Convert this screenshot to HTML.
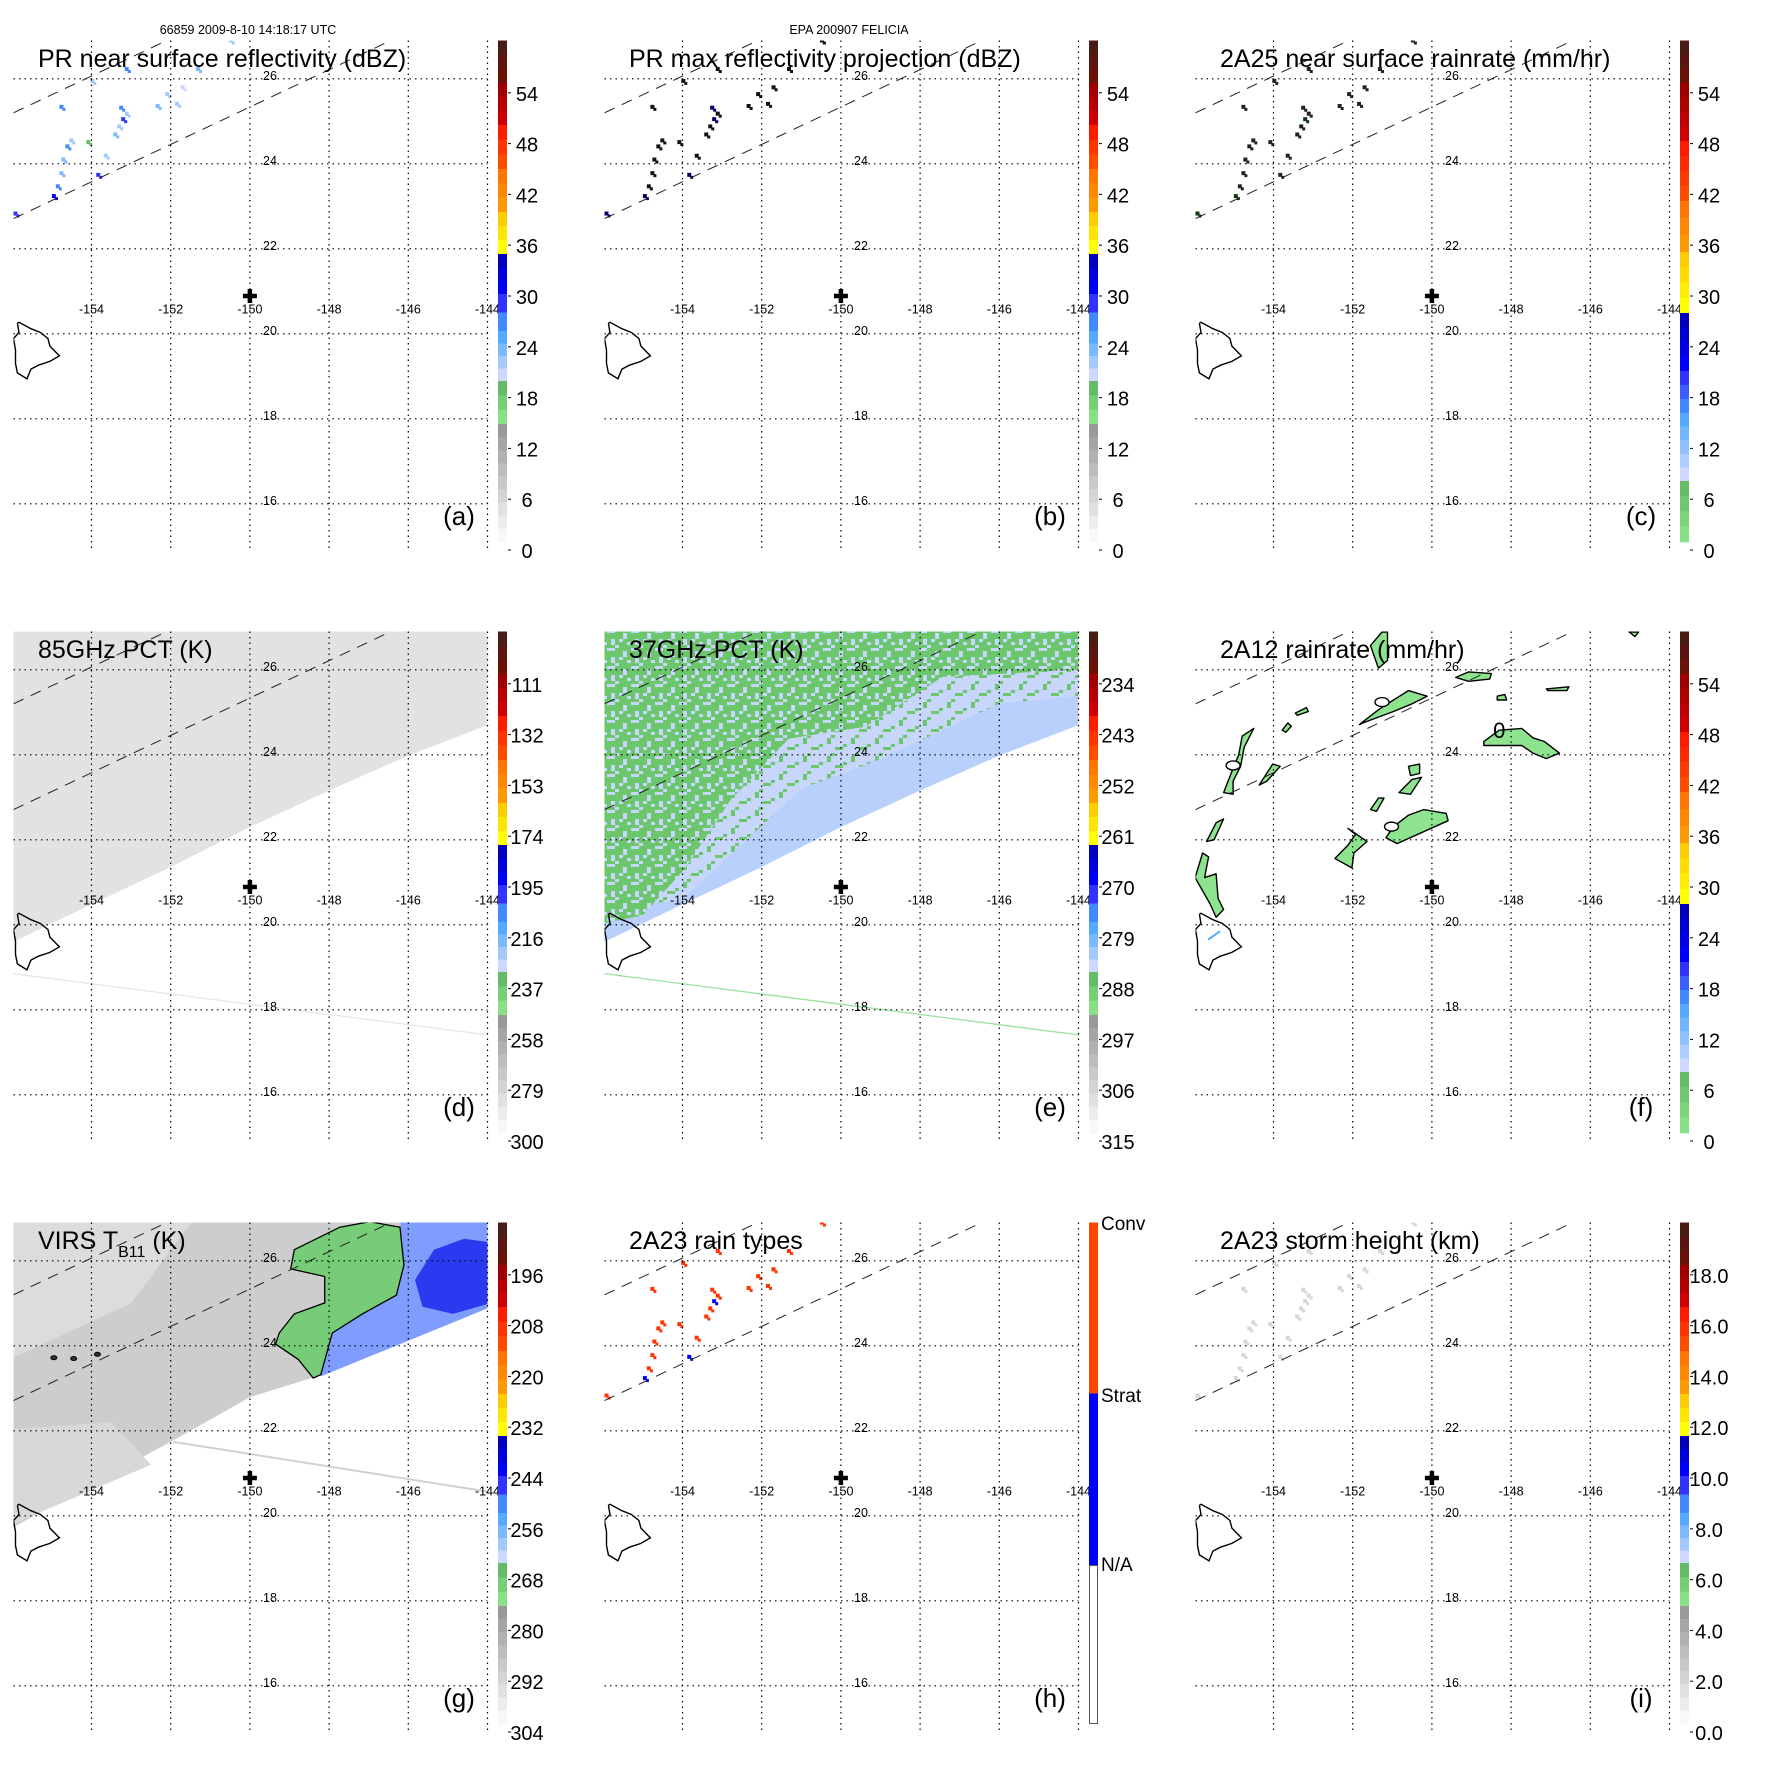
<!DOCTYPE html>
<html><head><meta charset="utf-8"><style>
html,body{margin:0;padding:0;background:#fff}
svg{display:block}
text{font-family:"Liberation Sans",Arial,sans-serif}
</style></head><body>
<svg id="fig" xmlns="http://www.w3.org/2000/svg" width="1771" height="1771" viewBox="0 0 1771 1771">
<rect x="0" y="0" width="1771" height="1771" fill="#fff"/>
<defs>
<pattern id="mixpat" width="24" height="18" patternUnits="userSpaceOnUse">
<rect width="24" height="18" fill="#6cc66c"/>
<rect x="0" y="0" width="4" height="3" fill="#c8d6fb"/><rect x="8" y="6" width="4" height="6" fill="#c8d6fb"/>
<rect x="16" y="3" width="8" height="3" fill="#c8d6fb"/><rect x="4" y="12" width="4" height="3" fill="#c8d6fb"/>
<rect x="20" y="12" width="4" height="6" fill="#c8d6fb"/><rect x="12" y="15" width="4" height="3" fill="#c8d6fb"/>
</pattern>
<pattern id="mixpat2" width="24" height="18" patternUnits="userSpaceOnUse">
<rect width="24" height="18" fill="#c8d6fb"/>
<rect x="0" y="0" width="4" height="3" fill="#6cc66c"/><rect x="12" y="9" width="4" height="3" fill="#6cc66c"/>
<rect x="20" y="3" width="4" height="6" fill="#6cc66c"/><rect x="4" y="12" width="8" height="3" fill="#6cc66c"/>
</pattern>
</defs>
<text x="248" y="34" font-size="12.5" text-anchor="middle">66859 2009-8-10 14:18:17 UTC</text>
<text x="849" y="34" font-size="12.5" text-anchor="middle">EPA 200907 FELICIA</text>
</svg>
<script>
const lonTicks=[-154,-152,-150,-148,-146,-144];
const latTicks=[16,18,20,22,24,26];
const stormLon=-150, stormLat=20.89;
// PR pixels
const prLon=[-154.95,-154.85,-154.76,-154.71,-154.61,-154.51,-154.08,-153.64,-153.83,-153.40,-153.20,-153.25,-153.11,-152.33,-152.09,-151.84,-153.98,-153.11,-151.31,-150.48,-155.92,-154.76,-153.30,-151.70];
const prLat=[23.24,23.47,23.78,24.10,24.41,24.55,24.51,24.19,23.74,24.69,25.05,25.32,25.18,25.36,25.64,25.41,25.95,26.23,26.23,26.90,22.83,25.34,24.88,25.80];
const prDbz=[31,26,24,24,27,22,19,22,29,24,30,27,22,24,22,22,22,26,24,22,29,26,22,21];
const prMax=[33,30,28,30,30,26,24,26,31,28,33,31,27,28,27,26,27,30,28,26,32,29,26,25];
const prRain=[14,6,4,4,8,3,2,3,10,4,12,8,3,4,3,3,3,6,4,3,10,6,3,2];
const prType=['S','C','C','C','C','C','C','C','S','C','S','C','C','C','C','C','C','C','C','C','C','C','C','C'];
const prHeight=[5.5,4.5,3.5,4,4.5,3,2.5,3,5,3.5,5,4.5,3,3.5,3,3,3,4,3.5,3,5,4,3,2.5];
// swath edges
const swathLonD=[-156.1,-155.97,-154,-152,-150,-148,-146,-144,-143.9];
const swathLatD=[19.55,19.60,20.48,21.36,22.30,23.16,23.98,24.70,24.74];
const swathLonG=[-156.1,-155.98,-154,-152,-150,-148,-146,-144,-143.9];
const swathLatG=[19.68,19.73,20.74,21.74,22.79,23.37,24.17,24.92,24.96];
const lineLonD=[-155.97,-144], lineLatD=[18.85,17.41];
const lineLonG=[-151.93,-144], lineLatG=[21.74,20.57];
const dashLowerLon=[-155.97,-146.60,-145.0], dashLowerLat=[22.71,26.83,27.53];
const dashUpperLon=[-155.97,-152.10,-151.5], dashUpperLat=[25.20,26.90,27.16];
const hawaiiLon=[-155.87,-155.83,-155.53,-155.29,-155.10,-155.05,-154.81,-155.05,-155.34,-155.53,-155.63,-155.87,-155.92,-155.92,-155.97,-155.83,-155.87];
const hawaiiLat=[20.25,20.27,20.12,20.03,19.89,19.71,19.48,19.35,19.26,19.17,18.94,19.08,19.30,19.62,19.89,20.03,20.25];
// 2A12 rain blobs (lon/lat)
const blobLon=[
[-148.69,-148.30,-147.73,-147.45,-147.16,-146.78,-147.11,-147.45,-147.73,-148.69],
[-151.16,-150.97,-150.59,-150.21,-149.64,-149.59,-150.88],
[-151.83,-151.35,-150.97,-150.59,-150.12,-150.50,-150.97,-151.74],
[-149.40,-149.07,-148.50,-148.54,-149.07],
[-147.11,-146.54,-146.59,-147.07],
[-155.26,-155.07,-154.88,-154.79,-154.50,-154.74,-154.83,-155.02,-155.02],
[-154.36,-154.02,-153.83,-154.17],
[-150.59,-150.31,-150.31,-150.54],
[-150.83,-150.50,-150.26,-150.54],
[-151.55,-151.35,-151.21,-151.40],
[-152.45,-152.12,-151.93,-152.12,-151.64,-151.97,-152.02],
[-155.98,-155.79,-155.64,-155.74,-155.45,-155.40,-155.26,-155.45,-155.60],
[-155.69,-155.45,-155.26,-155.50],
[-153.78,-153.64,-153.55,-153.69],
[-153.45,-153.17,-153.12,-153.40],
[-151.55,-151.26,-151.12,-151.12,-151.35],
[-148.35,-148.16,-148.11,-148.35],
[-145.02,-144.78,-144.87]];
const blobLat=[
[24.31,24.58,24.62,24.40,24.31,24.04,23.91,24.04,24.22,24.22],
[22.05,22.31,22.58,22.71,22.62,22.45,21.91],
[24.71,25.06,25.29,25.51,25.38,25.20,25.02,24.75],
[25.82,25.95,25.91,25.78,25.73],
[25.55,25.60,25.51,25.51],
[23.11,23.56,24.00,24.44,24.62,24.18,23.73,23.38,23.07],
[23.29,23.78,23.73,23.38],
[23.73,23.78,23.56,23.51],
[23.11,23.42,23.47,23.07],
[22.71,22.98,22.98,22.67],
[21.56,21.87,22.13,22.27,21.96,21.69,21.34],
[21.11,21.69,21.60,21.11,21.20,20.62,20.36,20.18,20.49],
[21.96,22.40,22.49,22.00],
[24.58,24.75,24.67,24.53],
[24.98,25.11,25.02,24.93],
[26.57,26.89,26.89,26.22,26.04],
[25.38,25.42,25.29,25.29],
[26.89,26.89,26.78]];
const ringLon=[-151.26,-155.02,-151.02], ringLat=[25.24,23.75,22.31];
// 37GHz green region
const greenLonE=[-156.2,-143.9,-143.9,-147.44,-149.38,-151.32,-152.78,-153.95,-155.01,-156.2];
const greenLatE=[27.1,27.1,26.01,25.83,24.66,24.38,22.94,21.31,20.22,20.0];
const mixLonE=[-156.2,-143.9,-143.9,-146.0,-149.0,-151.0,-152.5,-154.0,-156.2];
const mixLatE=[27.1,27.1,25.4,25.2,23.9,23.2,21.9,20.6,20.3];
// VIRS regions
const virsGreenLon=[-149.26,-148.88,-148.11,-148.11,-148.97,-148.88,-147.73,-146.97,-146.21,-146.11,-146.30,-147.16,-147.92,-148.21,-148.40,-148.78,-149.35];
const virsGreenLat=[24.30,24.75,25.01,25.63,25.81,26.26,26.79,26.92,26.79,25.90,25.19,24.75,24.30,23.32,23.24,23.68,24.04];
const virsBlueLon=[-146.21,-143.9,-143.9,-148.21,-148.02,-147.16,-146.30,-146.11];
const virsBlueLat=[27.0,27.0,24.92,23.28,24.30,24.75,25.19,25.90];
const virsDeepLon=[-145.83,-145.35,-144.59,-143.9,-143.9,-144.87,-145.64];
const virsDeepLat=[25.55,26.26,26.52,26.43,25.01,24.75,24.92];
const virsCoreLon=[-154.95,-154.45,-153.85], virsCoreLat=[23.72,23.70,23.80];
// colorbar labels
const labA=['0','6','12','18','24','30','36','42','48','54'];
const labD=['300','279','258','237','216','195','174','153','132','111'];
const labE=['315','306','297','288','279','270','261','252','243','234'];
const labG=['304','292','280','268','256','244','232','220','208','196'];
const labI=['0.0','2.0','4.0','6.0','8.0','10.0','12.0','14.0','16.0','18.0'];
const labH=['N/A','Strat','Conv'];

const NS='http://www.w3.org/2000/svg';
const svg=document.getElementById('fig');
function X(lon){return 91.5+(lon+154)*39.6;}
function Y(lat){return 78.8+(26-lat)*42.5;}
function el(tag,attrs,parent){const e=document.createElementNS(NS,tag);for(const k in attrs)e.setAttribute(k,attrs[k]);(parent||svg).appendChild(e);return e;}
function pts(lons,lats){return lons.map((l,i)=>X(l).toFixed(1)+','+Y(lats[i]).toFixed(1)).join(' ');}
const bandA=[[40.5,83,'#4a1a14','#6a1208',3],[83,125,'#a00000','#cc0000',3],[125,169,'#ff1a00','#ff4d00',3],[169,212,'#ff7700','#ff9900',3],[212,254,'#ffcc00','#ffff00',3],[254,294,'#0000bb','#0000ff',3],[294,331,'#3333ff','#4488ff',2],[331,381,'#55aaff','#ccd8ff',4],[381,424,'#66bb66','#88e088',3],[424,541.7,'#999999','#f8f8f8',9]];
const bandC=[[40.5,83,'#4a1a14','#6a1208',3],[83,141,'#a00000','#cc0000',4],[141,201,'#ff1a00','#ff4d00',4],[201,252,'#ff7700','#ff9900',3],[252,313,'#ffcc00','#ffff00',4],[313,371,'#0000bb','#0000ff',4],[371,413,'#3333ff','#4488ff',3],[413,481,'#55aaff','#ccd8ff',5],[481,541.7,'#66bb66','#88e088',4]];
function hex(c){return [1,3,5].map(i=>parseInt(c.substr(i,2),16));}
function mix(a,b,t){const A=hex(a),B=hex(b);return 'rgb('+A.map((v,i)=>Math.round(v+(B[i]-v)*t)).join(',')+')';}
function colorAt(bands,y){for(const b of bands){if(y>=b[0]&&y<=b[1]){const n=b[4];const k=Math.min(n-1,Math.floor((y-b[0])/(b[1]-b[0])*n));return mix(b[2],b[3],n>1?k/(n-1):0);}}return '#fff';}

const panels=[
 {id:'a',c:0,r:0,title:'PR near surface reflectivity (dBZ)',lab:labA,bands:bandA},
 {id:'b',c:1,r:0,title:'PR max reflectivity projection (dBZ)',lab:labA,bands:bandA},
 {id:'c',c:2,r:0,title:'2A25 near surface rainrate (mm/hr)',lab:labA,bands:bandC},
 {id:'d',c:0,r:1,title:'85GHz PCT (K)',lab:labD,bands:bandA},
 {id:'e',c:1,r:1,title:'37GHz PCT (K)',lab:labE,bands:bandA},
 {id:'f',c:2,r:1,title:'2A12 rainrate (mm/hr)',lab:labA,bands:bandC},
 {id:'g',c:0,r:2,title:'VIRS',lab:labG,bands:bandA},
 {id:'h',c:1,r:2,title:'2A23 rain types',lab:labH,bands:null},
 {id:'i',c:2,r:2,title:'2A23 storm height (km)',lab:labI,bands:bandA}];

panels.forEach(p=>{
 const g=el('g',{transform:'translate('+(591*p.c)+','+(591*p.r)+')'});
 
 
 const cp=el('clipPath',{id:'clip'+p.id},g);
 el('rect',{x:13.5,y:40.5,width:474,height:511.5},cp);
 const m=el('g',{'clip-path':'url(#clip'+p.id+')'},g);
 
 
 const ptD=pts(swathLonD,swathLatD), ptG=pts(swathLonG,swathLatG);
 if(p.id==='d'||p.id==='e'){
  const poly=X(-157)+','+Y(28)+' '+X(-143)+','+Y(28)+' '+ptD.split(' ').reverse().join(' ');
  const s=el('polygon',{points:poly,fill:p.id==='d'?'#e2e2e2':'#b8d0fb'},m);
  
  
  if(p.id==='e'){
   const mx=el('polygon',{points:pts(mixLonE,mixLatE),fill:'url(#mixpat2)'},m);
   
   
   const gr=el('polygon',{points:pts(greenLonE,greenLatE),fill:'url(#mixpat)'},m);
   
   
  }
  const ln=el('polyline',{points:pts(lineLonD,lineLatD),stroke:p.id==='d'?'#e6e6e6':'#9ee09e','stroke-width':1.3,fill:'none'},m);
  
  
 }
 if(p.id==='g'){
  const poly=X(-157)+','+Y(28)+' '+X(-143)+','+Y(28)+' '+ptG.split(' ').reverse().join(' ');
  const s=el('polygon',{points:poly,fill:'#cdcdcd'},m);
  
  
  el('polygon',{points:X(-156.5)+','+Y(27.5)+' '+X(-151)+','+Y(27.5)+' '+X(-153)+','+Y(25)+' '+X(-156.5)+','+Y(23.5),fill:'#dcdcdc'},m);
  el('polygon',{points:X(-156.5)+','+Y(22)+' '+X(-153.5)+','+Y(22.2)+' '+X(-152.5)+','+Y(21.2)+' '+X(-156.5)+','+Y(19.6),fill:'#d8d8d8'},m);
  const b=el('polygon',{points:pts(virsBlueLon,virsBlueLat),fill:'#7f9cff'},m);
  
  
  const dpb=el('polygon',{points:pts(virsDeepLon,virsDeepLat),fill:'#2a3af0'},m);
  
  
  const gr=el('polygon',{points:pts(virsGreenLon,virsGreenLat),fill:'#77cc77',stroke:'#000','stroke-width':1.3},m);
  
  
  virsCoreLon.forEach((l,i)=>{const c=el('ellipse',{cx:X(l),cy:Y(virsCoreLat[i]),rx:3,ry:2,fill:'#333',stroke:'#000'},m);
   
   });
  const ln=el('polyline',{points:pts(lineLonG,lineLatG),stroke:'#d0d0d0','stroke-width':2,fill:'none'},m);
  
  
 }
 if(p.id==='f'){
  blobLon.forEach((bl,i)=>{const b=el('polygon',{points:pts(bl,blobLat[i]),fill:'#8ee48e',stroke:'#000','stroke-width':1.4,'stroke-linejoin':'round'},m);
   
   });
  ringLon.forEach((l,i)=>{const r=el('ellipse',{cx:X(l),cy:Y(ringLat[i]),rx:7,ry:4.5,fill:'#fff',stroke:'#000','stroke-width':1.4},m);
   
   });
  const z=el('text',{x:X(-148.3),y:Y(24.4),'font-size':22,'text-anchor':'middle'},m);z.textContent='0';
  
  
  el('line',{x1:X(-155.65),y1:Y(19.65),x2:X(-155.35),y2:Y(19.85),stroke:'#55aaff','stroke-width':2},m);
 }
 if('abchi'.includes(p.id)){
  prLon.forEach((l,i)=>{
   let col;
   if(p.id==='a')col=colorAt(bandA,551-prDbz[i]*8.467);
   else if(p.id==='b')col=prMax[i]>30?'#000066':'#111';
   else if(p.id==='c')col=prRain[i]>8?'#113311':'#222';
   else if(p.id==='h')col=prType[i]==='S'?'#0000ff':'#ff3300';
   else col='#d6d6d6';
   const d=el('rect',{x:X(l)-2,y:Y(prLat[i])-2,width:4,height:4,fill:col},m);
   
   
   const d2=el('rect',{x:X(l)+1,y:Y(prLat[i])+1,width:3,height:3,fill:col},m);
   
   
  });
 }
 // grid
 lonTicks.forEach(lo=>{const l=el('line',{x1:X(lo),y1:40.5,x2:X(lo),y2:552,stroke:'#000','stroke-width':1.2,'stroke-dasharray':'1.5,4'},g);
  
  
  const t=el('text',{x:X(lo),y:313.5,'font-size':12.5,'text-anchor':'middle'},g);t.textContent=String(lo);
  
  });
 latTicks.forEach(la=>{const l=el('line',{x1:13.5,y1:Y(la),x2:487.5,y2:Y(la),stroke:'#000','stroke-width':1.2,'stroke-dasharray':'1.5,4'},g);
  
  
  const t=el('text',{x:270,y:Y(la)+1,'font-size':12.5,'text-anchor':'middle'},g);t.textContent=String(la);
  
  });
 // dashed swath lines
 [[dashLowerLon,dashLowerLat],[dashUpperLon,dashUpperLat]].forEach(dl=>{
  const l=el('polyline',{points:pts(dl[0],dl[1]),fill:'none',stroke:'#222','stroke-width':1,'stroke-dasharray':'11,8'},m);
  
  });
 const hw=el('polyline',{points:pts(hawaiiLon,hawaiiLat),fill:'none',stroke:'#000','stroke-width':1.4},m);
 
 
 const cx=X(stormLon), cy=Y(stormLat);
 const cr=el('path',{d:'M'+(cx-7)+','+cy+'H'+(cx+7)+'M'+cx+','+(cy-7)+'V'+(cy+7),stroke:'#000','stroke-width':4.5},g);
 
 
 // title
 const t=el('text',{x:38,y:67,'font-size':25},g);
 
 
 if(p.id==='g'){t.innerHTML='VIRS T<tspan font-size="16" dy="8">B11</tspan><tspan dy="-8"> (K)</tspan>';}
 else t.textContent=p.title;
 const lt=el('text',{x:459,y:525,'font-size':26,'text-anchor':'middle'},g);lt.textContent='('+p.id+')';
 
 
 // colorbar
 const cb=el('g',{},g);
 
 
 if(p.bands){
  p.bands.forEach(b=>{const n=b[4],h=(b[1]-b[0])/n;for(let k=0;k<n;k++){
   el('rect',{x:498,y:b[0]+k*h,width:9,height:h+0.6,fill:mix(b[2],b[3],n>1?k/(n-1):0)},cb);}});
  p.lab.forEach((s,i)=>{const y=558-i*50.8;
   el('line',{x1:508,y1:y-8,x2:511,y2:y-8,stroke:'#000','stroke-width':1},cb);
   const tx=el('text',{x:527,y:y,'font-size':20,'text-anchor':'middle'},cb);tx.textContent=s;
   
   });
 } else {
  el('rect',{x:498,y:40.5,width:9,height:171,fill:'#ff4400'},cb);
  el('rect',{x:498,y:211.5,width:9,height:172,fill:'#0000ff'},cb);
  el('rect',{x:498.5,y:383.5,width:8,height:158,fill:'#fff',stroke:'#555','stroke-width':1},cb);
  const ly=[389,220,48];
  p.lab.forEach((s,i)=>{const tx=el('text',{x:510,y:ly[i],'font-size':19},cb);tx.textContent=s;
   
   });
 }
});
</script>
</body></html>
